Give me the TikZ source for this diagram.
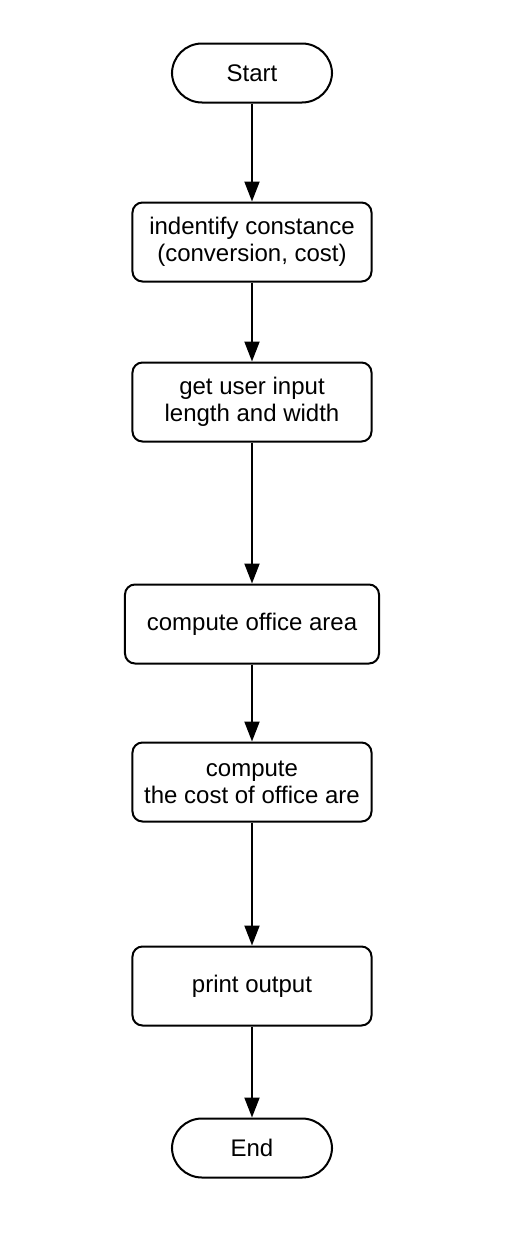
\documentclass[tikz,border=0pt]{standalone}
\usepackage{fontspec}
\setmainfont{Liberation Sans}
\usetikzlibrary{arrows.meta, positioning}

\begin{document}
\begin{tikzpicture}[
            node distance=40pt,
            terminal/.style={rectangle, rounded corners=15pt, draw=black, line width=1pt,
                        minimum width=80pt, minimum height=29.5pt, align=center,
                        font=\fontsize{12}{13.5}\selectfont},
            box/.style={rectangle, rounded corners=5pt, draw=black, line width=1pt,
                        minimum width=119.5pt, minimum height=39.5pt, align=center,
                        font=\fontsize{12}{13.5}\selectfont},
            arrow/.style={-{Triangle[length=10pt, width=7.5pt]}, line width=1pt, black}
        ]
            \useasboundingbox (-126pt,36.5pt) rectangle (131pt,-592.5pt);

            \node[terminal] (start) at (0,0) {Start};
            \node[box, below=49pt of start] (constants) {indentify constance\\(conversion, cost)};
            \node[box, below=39.5pt of constants] (input) {get user input\\length and width};
            \node[box, below=70.5pt of input, minimum width=127pt] (area) {compute office area};
            \node[box, below=38.5pt of area] (cost) {compute\\the cost of office are};
            \node[box, below=61.5pt of cost] (output) {print output};
            \node[terminal, below=45.5pt of output] (end) {End};

            \draw[arrow] (start) -- (constants);
            \draw[arrow] (constants) -- (input);
            \draw[arrow] (input) -- (area);
            \draw[arrow] (area) -- (cost);
            \draw[arrow] (cost) -- (output);
            \draw[arrow] (output) -- (end);
        \end{tikzpicture}
\end{document}
